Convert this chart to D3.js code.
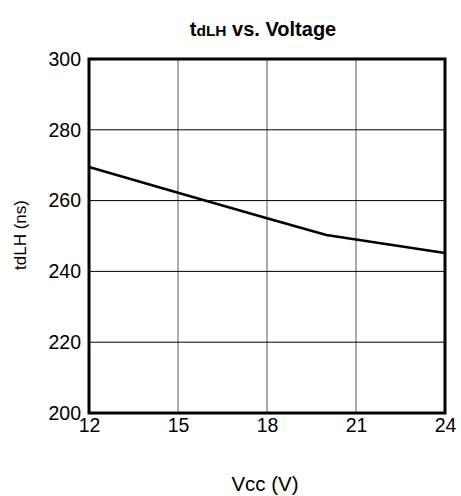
<!DOCTYPE html>
<html><head><meta charset="utf-8">
<script src="https://cdn.jsdelivr.net/npm/d3@7"></script>
<style>body{margin:0;background:#fff;} text{font-family:"Liberation Sans",Arial,sans-serif;}</style>
</head><body>
<svg id="c" width="461" height="496"></svg>
<script>
const vcc = [12, 15, 18, 20, 24];
const tdlh = [269.5, 262.2, 255.0, 250.3, 245.2];
const xTicks = [12, 15, 18, 21, 24];
const yTicks = [200, 220, 240, 260, 280, 300];

const svg = d3.select("#c");
const L = 89, R = 445, T = 59, B = 413;
const x = d3.scaleLinear().domain([12, 24]).range([L, R]);
const y = d3.scaleLinear().domain([200, 300]).range([B, T]);

// grid
svg.append("g").selectAll("line").data(xTicks.slice(1, -1)).join("line")
  .attr("x1", d => x(d)).attr("x2", d => x(d)).attr("y1", T).attr("y2", B)
  .attr("stroke", "#555").attr("stroke-width", 1);
svg.append("g").selectAll("line").data(yTicks.slice(1, -1)).join("line")
  .attr("x1", L).attr("x2", R).attr("y1", d => y(d)).attr("y2", d => y(d))
  .attr("stroke", "#000").attr("stroke-width", 1);

// axes labels via d3 axes
const xa = svg.append("g").attr("transform", `translate(0,${B})`)
  .call(d3.axisBottom(x).tickValues(xTicks).tickSize(0).tickPadding(5));
xa.select(".domain").remove();
xa.selectAll("text").attr("font-size", 19.5).attr("fill", "#000").attr("font-family", "Liberation Sans, Arial, sans-serif");
const ya = svg.append("g").attr("transform", `translate(${L},0)`)
  .call(d3.axisLeft(y).tickValues(yTicks).tickSize(0).tickPadding(8));
ya.select(".domain").remove();
ya.selectAll("text").attr("font-size", 19.5).attr("fill", "#000").attr("font-family", "Liberation Sans, Arial, sans-serif");

// data line
svg.append("path").datum(vcc.map((v, i) => [v, tdlh[i]]))
  .attr("fill", "none").attr("stroke", "#000").attr("stroke-width", 2.5)
  .attr("d", d3.line().x(d => x(d[0])).y(d => y(d[1])));

// frame
svg.append("rect").attr("x", L).attr("y", T).attr("width", R - L).attr("height", B - T)
  .attr("fill", "none").attr("stroke", "#000").attr("stroke-width", 3);

// title
const t = svg.append("text").attr("x", 263).attr("y", 36).attr("text-anchor", "middle")
  .attr("font-weight", "bold").attr("font-size", 20);
t.append("tspan").text("t");
t.append("tspan").attr("font-size", 15.5).text("dLH");
t.append("tspan").text(" vs. Voltage");

// axis titles
svg.append("text").attr("x", 265).attr("y", 491).attr("text-anchor", "middle")
  .attr("font-size", 20.5).text("Vcc (V)");
svg.append("text").attr("transform", "translate(26,235) rotate(-90)")
  .attr("text-anchor", "middle").attr("font-size", 17).text("tdLH (ns)");
</script>
</body></html>
